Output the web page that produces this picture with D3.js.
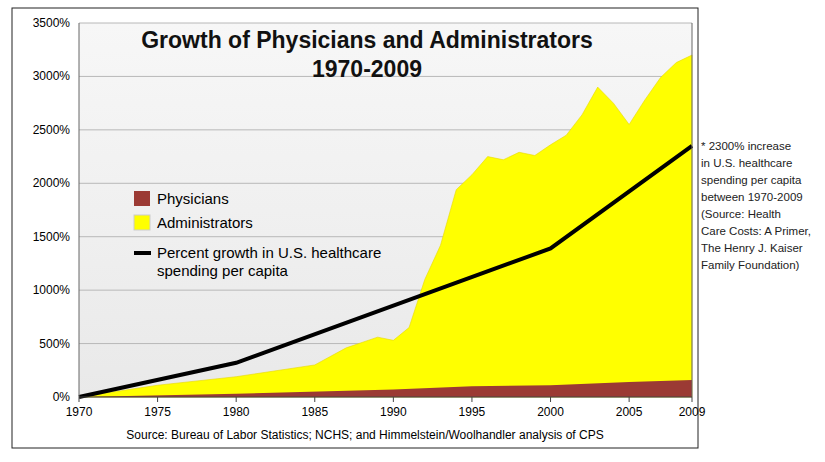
<!DOCTYPE html><html><head><meta charset="utf-8"><script src="https://cdn.jsdelivr.net/npm/d3@7"></script>
<style>body{margin:0;background:#fff;font-family:"Liberation Sans",Arial,sans-serif}</style></head><body><svg width="825" height="462"></svg><script>
const years=[1970,1975,1980,1985,1987,1989,1990,1991,1992,1993,1994,1995,1996,1997,1998,1999,2000,2001,2002,2003,2004,2005,2006,2007,2008,2009];
const administrators=[0,110,190,300,460,560,530,650,1100,1420,1940,2080,2250,2220,2290,2260,2360,2450,2640,2900,2750,2550,2780,2990,3130,3200];
const physYears=[1970,1980,1990,1995,2000,2005,2009];
const physicians=[0,30,70,100,110,140,160];
const spendYears=[1970,1980,2000,2009];
const spending=[0,320,1390,2350];
const yTicks=[0,500,1000,1500,2000,2500,3000,3500];
const xTicks=[1970,1975,1980,1985,1990,1995,2000,2005,2009];
const svg=d3.select("svg");
const x=d3.scaleLinear().domain([1970,2009]).range([79,692]);
const y=d3.scaleLinear().domain([0,3500]).range([397,23]);
const defs=svg.append("defs");const g=defs.append("linearGradient").attr("id","bg").attr("x1",0).attr("x2",0).attr("y1",0).attr("y2",1);
g.append("stop").attr("offset",0).attr("stop-color","#f7f7f7");g.append("stop").attr("offset",1).attr("stop-color","#e9e9e9");
svg.append("rect").attr("x",12).attr("y",8).attr("width",686).attr("height",440).attr("fill","#fff").attr("stroke","#222").attr("stroke-width",1);
svg.append("rect").attr("x",x(1970)).attr("y",y(3500)).attr("width",x(2009)-x(1970)).attr("height",y(0)-y(3500)).attr("fill","url(#bg)");
yTicks.forEach(t=>{svg.append("line").attr("x1",x(1970)).attr("x2",x(2009)).attr("y1",y(t)).attr("y2",y(t)).attr("stroke","#b8b8b8");
svg.append("text").attr("x",70).attr("y",y(t)+4).attr("text-anchor","end").attr("font-size",12).text(t+"%");});
const area=d3.area().x(d=>x(d[0])).y0(y(0)).y1(d=>y(d[1]));
svg.append("path").attr("d",area(years.map((yy,i)=>[yy,administrators[i]]))).attr("fill","#ffff00").attr("stroke","#e8d800").attr("stroke-width",0.6);
svg.append("path").attr("d",area(physYears.map((yy,i)=>[yy,physicians[i]]))).attr("fill","#9b3a34");
svg.append("path").attr("d",d3.line().x(d=>x(d[0])).y(d=>y(d[1]))(spendYears.map((yy,i)=>[yy,spending[i]]))).attr("fill","none").attr("stroke","#000").attr("stroke-width",4);
svg.append("line").attr("x1",x(1970)).attr("x2",x(1970)).attr("y1",y(3500)).attr("y2",y(0)).attr("stroke","#666");
svg.append("line").attr("x1",x(2009)).attr("x2",x(2009)).attr("y1",y(3500)).attr("y2",y(0)).attr("stroke","#666");
svg.append("line").attr("x1",x(1970)).attr("x2",x(2009)).attr("y1",y(0)).attr("y2",y(0)).attr("stroke","#444");
xTicks.forEach(t=>{svg.append("line").attr("x1",x(t)).attr("x2",x(t)).attr("y1",y(0)).attr("y2",y(0)+5).attr("stroke","#444");
svg.append("text").attr("x",x(t)).attr("y",416).attr("text-anchor","middle").attr("font-size",12).text(t);});
svg.append("text").attr("x",365).attr("y",439).attr("text-anchor","middle").attr("font-size",12).text("Source: Bureau of Labor Statistics; NCHS; and Himmelstein/Woolhandler analysis of CPS");
svg.append("text").attr("x",367).attr("y",48).attr("text-anchor","middle").attr("font-size",23).attr("font-weight","bold").attr("fill","#111").text("Growth of Physicians and Administrators");
svg.append("text").attr("x",367).attr("y",77).attr("text-anchor","middle").attr("font-size",23).attr("font-weight","bold").attr("fill","#111").text("1970-2009");
svg.append("rect").attr("x",134).attr("y",191).attr("width",16).attr("height",15).attr("fill","#9b3a34");
svg.append("text").attr("x",157).attr("y",204).attr("font-size",15).text("Physicians");
svg.append("rect").attr("x",134).attr("y",215).attr("width",16).attr("height",15).attr("fill","#ffff00").attr("stroke","#ccc");
svg.append("text").attr("x",157).attr("y",228).attr("font-size",15).text("Administrators");
svg.append("line").attr("x1",134).attr("x2",151).attr("y1",253).attr("y2",253).attr("stroke","#000").attr("stroke-width",4);
svg.append("text").attr("x",157).attr("y",258).attr("font-size",15).text("Percent growth in U.S. healthcare");
svg.append("text").attr("x",157).attr("y",276).attr("font-size",15).text("spending per capita");
const notes=["* 2300% increase","in U.S. healthcare","spending per capita","between 1970-2009","(Source: Health","Care Costs: A Primer,","The Henry J. Kaiser","Family Foundation)"];
notes.forEach((s,i)=>svg.append("text").attr("x",701).attr("y",150+i*17).attr("font-size",11.5).attr("fill","#222").text(s));
</script></body></html>
